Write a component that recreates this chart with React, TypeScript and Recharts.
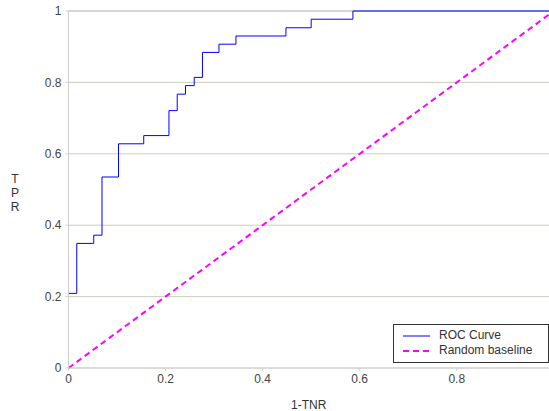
import {
  LineChart,
  Line,
  XAxis,
  YAxis,
  CartesianGrid,
  ReferenceLine,
  Legend,
} from "recharts";

// ROC points (false positive rate = 1-TNR, true positive rate)
const fprValues = [
  0, 0, 0.017, 0.052, 0.069, 0.103, 0.155, 0.207, 0.224, 0.241, 0.259, 0.276,
  0.31, 0.345, 0.448, 0.5, 0.586, 0.99,
];
const tprValues = [
  0.023, 0.209, 0.349, 0.372, 0.535, 0.628, 0.651, 0.721, 0.767, 0.791, 0.814,
  0.884, 0.907, 0.93, 0.953, 0.977, 1, 1,
];
const baselineX = [0, 0.99];
const baselineY = [0, 0.99];

const xTicks = [0, 0.2, 0.4, 0.6, 0.8];
const yTicks = [0, 0.2, 0.4, 0.6, 0.8, 1];

const rocData = fprValues.map((x, i) => ({ x, roc: tprValues[i] }));
const baselineData = baselineX.map((x, i) => ({ x, base: baselineY[i] }));

const FONT = "'Liberation Sans', Arial, sans-serif";
const TICK = { fontSize: 12, fill: "#444", fontFamily: FONT };

function TprLabel() {
  return (
    <text x={15} textAnchor="middle" fontSize={12} fill="#333" fontFamily={FONT}>
      <tspan x={15} y={183}>T</tspan>
      <tspan x={15} y={197}>P</tspan>
      <tspan x={15} y={211}>R</tspan>
    </text>
  );
}

function LegendBox() {
  return (
    <div
      style={{
        width: 154,
        height: 37,
        border: "1px solid #333",
        background: "#fff",
        fontFamily: FONT,
        fontSize: 12,
        color: "#333",
        position: "relative",
      }}
    >
      <svg width={30} height={37} style={{ position: "absolute", left: 8, top: 0 }}>
        <line x1={1} y1={11} x2={28} y2={11} stroke="#0000ff" strokeWidth={1} />
        <line x1={1} y1={26} x2={28} y2={26} stroke="#ff00ff" strokeWidth={2} strokeDasharray="6 4" />
      </svg>
      <div style={{ position: "absolute", left: 45, top: 3, lineHeight: "15px" }}>ROC Curve</div>
      <div style={{ position: "absolute", left: 45, top: 18, lineHeight: "15px" }}>Random baseline</div>
    </div>
  );
}

export default function App() {
  return (
    <div style={{ position: "absolute", left: 0, top: 0, width: 549, height: 411, background: "#fff" }}>
      <LineChart width={549} height={411} margin={{ top: 11, right: 0, bottom: 0, left: 0 }}>
        <CartesianGrid vertical={false} stroke="#c9d0b9" />
        <ReferenceLine y={1} stroke="#c8c8c8" />
        <XAxis
          type="number"
          dataKey="x"
          domain={[0, 0.99]}
          ticks={xTicks}
          allowDataOverflow
          height={43}
          stroke="#cfcfcf"
          tickSize={3}
          tickMargin={3}
          tick={TICK}
          label={{ value: "1-TNR", position: "insideBottom", offset: 2, fontSize: 12, fill: "#333", fontFamily: FONT }}
        />
        <YAxis
          type="number"
          domain={[0, 1]}
          ticks={yTicks}
          width={68.5}
          stroke="#cfcfcf"
          tickSize={3}
          tickMargin={4}
          tick={TICK}
          label={{ content: () => <TprLabel /> }}
        />
        <Line
          data={baselineData}
          dataKey="base"
          type="linear"
          stroke="#ff00ff"
          strokeWidth={2}
          strokeDasharray="6 4"
          dot={false}
          activeDot={false}
          isAnimationActive={false}
        />
        <Line
          data={rocData}
          dataKey="roc"
          type="stepAfter"
          stroke="#0000ff"
          strokeWidth={1}
          dot={false}
          activeDot={false}
          isAnimationActive={false}
        />
        <Legend
          layout="vertical"
          align="center"
          verticalAlign="middle"
          content={() => <LegendBox />}
          wrapperStyle={{ position: "absolute", left: 393, top: 324, width: 156, height: 39 }}
        />
      </LineChart>
    </div>
  );
}
